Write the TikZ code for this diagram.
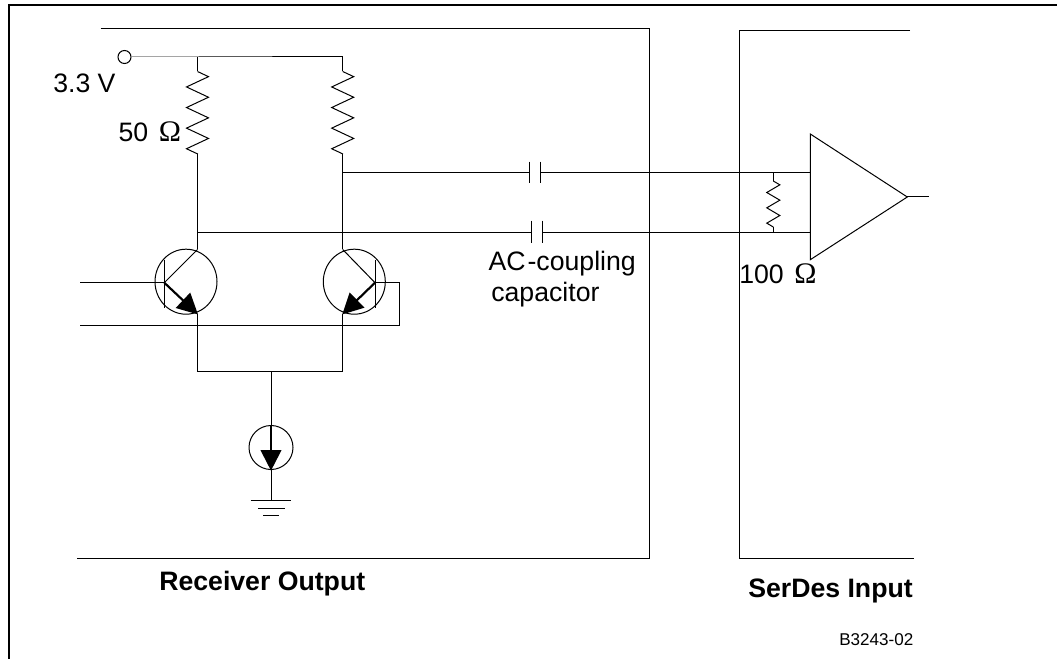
\documentclass[tikz,border=0pt]{standalone}
\usepackage{fontspec}
\setmainfont{Liberation Sans}
\newfontfamily\ohmfont[Scale=1.12]{Liberation Serif}
\usetikzlibrary{arrows.meta,decorations.pathmorphing,shapes.geometric}
\tikzset{
  wire/.style={line width=0.75pt},
  label/.style={anchor=base west, inner sep=0pt, font=\fontsize{20pt}{24pt}\selectfont},
  heading/.style={label, font=\fontsize{20pt}{24pt}\selectfont\bfseries},
  qbody/.style={draw, ellipse, line width=0.75pt, inner sep=0pt, minimum width=46.5pt, minimum height=48.75pt},
  emitter/.style={line width=1.6pt, -{Triangle[length=15.5pt,width=15.5pt]}, shorten >=-0.5pt},
  bigres/.style={wire, decorate, decoration={zigzag, segment length=15.45pt, amplitude=8.25pt}},
  smallres/.style={wire, decorate, decoration={zigzag, segment length=11.5pt, amplitude=4.9pt}}
}
\begin{document}
\begin{tikzpicture}[x=0.75pt,y=-0.75pt]
\useasboundingbox (0,0) rectangle (1057,659);

%frame and boxes
\draw[line width=1.5pt] (8.5,659)--(8.5,5.5)--(1057,5.5);
\draw[wire] (100.5,29)--(649,29)--(649,558.5)--(77,558.5);
\draw[wire] (910,31)--(739,31)--(739,558.5)--(913.5,558.5);

%supply and resistors
\node[draw, circle, wire, inner sep=0pt, minimum size=9.75pt] (vcc) at (124.5,57) {};
\coordinate (rtopa) at (197.5,57);
\coordinate (rtopb) at (342.7,57);
\foreach \n/\x in {a/197.5,b/342.7}{
  \coordinate (rin\n) at (\x,71.5);
  \coordinate (rout\n) at (\x,154);
  \draw[bigres] (rin\n)--(rout\n);
  \draw[wire] (rtop\n)--(rin\n);
}
\draw[wire] (vcc)--(rtopa)--(rtopb);

%transistors
\node[qbody] (qa) at (186,281.7) {};
\node[qbody] (qb) at (354.3,281.7) {};
\coordinate (cola) at (197.5,249.5);
\coordinate (colb) at (342.7,249.5);
\coordinate (basea) at (164.3,282.7);
\coordinate (baseb) at (375,282.7);
\coordinate (emita) at (197.5,314);
\coordinate (emitb) at (342.7,314);
\draw[wire] (164.3,260)--(164.3,308);
\draw[wire] (375,260)--(375,308);
\draw[wire] (basea)--(cola);
\draw[wire] (baseb)--(colb);
\draw[emitter] (basea)--(emita);
\draw[emitter] (baseb)--(emitb);
\draw[wire] (routa)--(cola);
\draw[wire] (routb)--(colb);

%inputs
\coordinate (ina) at (80,282.7);
\coordinate (inb) at (80,325.7);
\coordinate (loopa) at (399.3,282.7);
\coordinate (loopb) at (399.3,325.7);
\draw[wire] (ina)--(basea);
\draw[wire] (baseb)--(loopa)--(loopb)--(inb);

%tail and current source
\coordinate (taila) at (197.5,372);
\coordinate (tailb) at (342.7,372);
\coordinate (tailm) at (271,372);
\coordinate (gnd) at (271,500.3);
\node[draw, circle, wire, inner sep=0pt, minimum size=33pt] (src) at (271,447.5) {};
\draw[wire] (emita)--(taila)--(tailb)--(emitb);
\draw[wire] (tailm)--(src.north);
\draw[emitter] (src.north)--(src.south);
\draw[wire] (src.south)--(gnd);
\draw[wire] (250.5,500.3)--(291,500.3);
\draw[wire] (258,508.3)--(285,508.3);
\draw[wire] (263,515)--(279,515);

%capacitors
\coordinate (ja) at (342.7,172.3);
\coordinate (jb) at (197.5,232.3);
\coordinate (plateaa) at (529.3,172.3);
\coordinate (plateab) at (540,172.3);
\coordinate (plateba) at (531.7,232.3);
\coordinate (platebb) at (542,232.3);
\draw[wire] (529.3,161.7)--(529.3,183.3);
\draw[wire] (540,161.7)--(540,183.3);
\draw[wire] (531.7,220.7)--(531.7,242.7);
\draw[wire] (542,220.7)--(542,242.7);
\draw[wire] (ja)--(plateaa);
\draw[wire] (jb)--(plateba);

%amplifier
\coordinate (ampt) at (810.3,134);
\coordinate (ampb) at (810.3,259.7);
\coordinate (ampo) at (907.3,197);
\coordinate (ampia) at (810.3,172.3);
\coordinate (ampib) at (810.3,232.3);
\coordinate (out) at (929.3,197);
\draw[wire] (ampt)--(ampo)--(ampb)--cycle;
\draw[wire] (ampo)--(out);
\draw[wire] (plateab)--(ampia);
\draw[wire] (platebb)--(ampib);

%termination
\coordinate (ttop) at (773.3,172.3);
\coordinate (tbot) at (773.3,232.3);
\coordinate (tin) at (773.3,181);
\coordinate (tout) at (773.3,227);
\draw[wire] (ttop)--(tin);
\draw[smallres] (tin)--(tout);
\draw[wire] (tout)--(tbot);

%texts
\node[label] (vlabel) at (53,92.5) {3.3 V};
\node[label] (rlabel) at (118.3,142) {50\hspace{0.4em}{\ohmfont Ω}};
\node[label] (clabela) at (488.3,271) {AC\kern1.5pt-coupling};
\node[label] (clabelb) at (491,302) {capacitor};
\node[label] (tlabel) at (739,283.5) {100\hspace{0.4em}{\ohmfont Ω}};
\node[heading] (rxlabel) at (159,590) {Receiver Output};
\node[heading] (sdlabel) at (748,597) {SerDes Input};
\node[label, font=\fontsize{12.8pt}{15pt}\selectfont] (idlabel) at (839,645) {B3243-02};
\end{tikzpicture}
\end{document}
